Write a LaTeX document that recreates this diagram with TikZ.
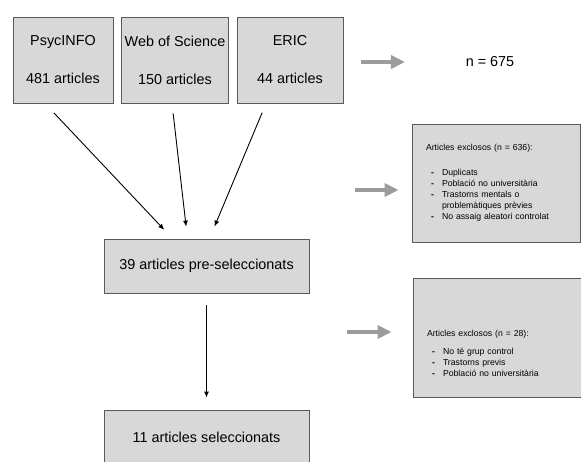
\documentclass[tikz,border=0pt]{standalone}
\usepackage{fontspec}
\setmainfont{Liberation Sans}
\usetikzlibrary{arrows.meta,positioning}
\definecolor{boxfill}{HTML}{D8D8D8}
\definecolor{boxline}{HTML}{5A5A5A}
\definecolor{flowgray}{HTML}{9C9C9C}
\newcommand{\exdash}[1]{\hspace*{5pt}\makebox[11pt][l]{\textbf{-}}#1}

\begin{document}
\begin{tikzpicture}[x=1pt, y=-1pt, >={Latex[length=6pt,width=5pt]}, line width=0.9pt, on grid,
   src/.style={draw=boxline, fill=boxfill, minimum height=86pt, align=center, font=\fontsize{14.4}{38}\selectfont},
   stage/.style={draw=boxline, fill=boxfill, minimum width=205pt, minimum height=54pt, font=\fontsize{14.4}{17}\selectfont},
   excl/.style={draw=boxline, fill=boxfill, minimum width=168pt, inner xsep=14pt, text width=140pt, align=left, font=\fontsize{8.7}{11}\selectfont},
   grayarrow/.style={draw=flowgray, line width=4pt, -{Triangle[length=14pt,width=13pt]}}]
   \clip (0,0) rectangle (581,461);
   \node[src, minimum width=100pt] (psyc)  at (63,60)          {PsycINFO\\481 articles};
   \node[src, minimum width=106pt] (wos)   [right=112pt of psyc] {Web of Science\\150 articles};
   \node[src, minimum width=106pt] (eric)  [right=115pt of wos]  {ERIC\\44 articles};
   \node[font=\fontsize{14.4}{17}\selectfont] (total) at (490,62) {n = 675};
   \node[stage] (pre) at (206.5,266)          {39 articles pre-seleccionats};
   \node[stage] (sel) [below=171pt of pre]    {11 articles seleccionats};
   \node[excl, minimum height=118pt] (exc1) at (496,183)
      {Articles exclosos (n = 636):\\[14pt]
       \exdash{Duplicats}\\
       \exdash{Població no universitària}\\
       \exdash{Trastorns mentals o}\\
       \hspace*{16pt}problemàtiques prèvies\\
       \exdash{No assaig aleatori controlat}};
   \node[excl, minimum height=119pt] (exc2) at (497,337.5)
      {\rule{0pt}{39pt}Articles exclosos (n = 28):\\[7pt]
       \exdash{No té grup control}\\
       \exdash{Trastorns previs}\\
       \exdash{Població no universitària}};
   % sources into the pre-selection
   \path ([xshift=-18pt]psyc.south) edge [->, shorten <=13pt, shorten >=12pt] ([xshift=-34pt]pre.north)
         ([xshift=-3pt]wos.south)   edge [->, shorten <=10pt, shorten >=12pt] ([xshift=-19pt]pre.north)
         ([xshift=-24pt]eric.south) edge [->, shorten <=10pt, shorten >=13pt] ([xshift=3pt]pre.north)
         (pre.south)                edge [->, shorten <=12pt, shorten >=12pt] (sel.north);
   % grey side arrows
   \draw[grayarrow] ([xshift=18pt,yshift=-2pt]eric.east) -- ([xshift=-57pt]total.west);
   \draw[grayarrow] ([xshift=-57pt,yshift=-7pt]exc1.west) -- ([xshift=-13pt,yshift=-7pt]exc1.west);
   \draw[grayarrow] ([xshift=-66pt,yshift=5.5pt]exc2.west) -- ([xshift=-21pt,yshift=5.5pt]exc2.west);
\end{tikzpicture}
\end{document}
